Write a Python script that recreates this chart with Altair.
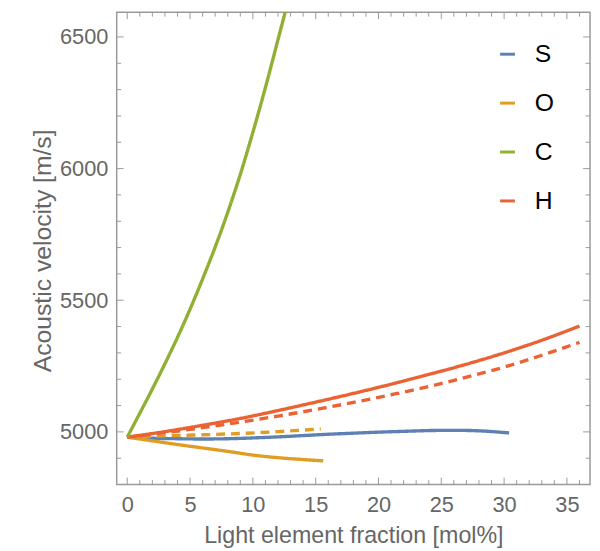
import altair as alt
import pandas as pd

# ---------------- data ----------------
elements = ["S", "O", "C", "H"]
colors = ["#5E81B5", "#E19C24", "#8FB032", "#EB6235"]

s_x = [0, 2, 4, 6, 8, 10, 12, 14, 16, 18, 20, 22, 24, 26, 28, 30.4]
s_y = [4980, 4976, 4974, 4973, 4974, 4977, 4981, 4986, 4991, 4995, 4999, 5002, 5005, 5006, 5004, 4996]

o_x = [0, 2, 4, 6, 8, 10, 12, 14, 15.6]
o_y = [4980, 4966, 4952, 4939, 4926, 4912, 4902, 4895, 4890]

o_dash_x = [0, 3, 6, 9, 12, 15.4]
o_dash_y = [4980, 4985, 4989, 4994, 5001, 5011]

c_x = [0, 1, 2, 3, 4, 5, 6, 7, 8, 9, 10, 11, 12, 12.6, 13]
c_y = [4980, 5071, 5163, 5259, 5359, 5466, 5581, 5702, 5834, 5978, 6138, 6308, 6490, 6600, 6680]

h_x = [0, 3, 6, 9, 12, 15, 18, 21, 24, 27, 30, 33, 36]
h_y = [4980, 5001, 5025, 5051, 5081, 5113, 5146, 5181, 5218, 5257, 5300, 5348, 5402]

h_dash_x = [0, 3, 6, 9, 12, 15, 18, 21, 24, 27, 30, 33, 36]
h_dash_y = [4980, 4997, 5016, 5037, 5060, 5085, 5112, 5141, 5172, 5208, 5246, 5291, 5340]

x_major = [0, 5, 10, 15, 20, 25, 30, 35]
x_minor = [v for v in range(0, 37) if v % 5 != 0]
y_major = [5000, 5500, 6000, 6500]
y_minor = [4900] + [v for v in range(5100, 6600, 100) if v % 500 != 0]

x_domain = [-0.84, 36.84]
y_domain = [4800, 6594]

# ---------------- build table ----------------
rows = []
def add(el, style, xs, ys):
    for x, y in zip(xs, ys):
        rows.append({"element": el, "style": style, "series": el + "-" + style, "x": x, "y": y})

add("S", "solid", s_x, s_y)
add("O", "solid", o_x, o_y)
add("O", "dashed", o_dash_x, o_dash_y)
add("H", "dashed", h_dash_x, h_dash_y)
add("H", "solid", h_x, h_y)
add("C", "solid", c_x, c_y)
df = pd.DataFrame(rows)

W, H = 479, 478
FONT = "Liberation Sans"
GREY_TXT = "#666666"
GREY_LN = "#9a9a9a"
MAJ, MIN = 7, 4.5

xs = alt.Scale(domain=x_domain, nice=False, zero=False)
ys = alt.Scale(domain=y_domain, nice=False, zero=False)

lines = alt.Chart(df).mark_line(strokeWidth=3.4, clip=True, interpolate="monotone").encode(
    x=alt.X("x:Q", scale=xs, axis=alt.Axis(
        values=x_major, format="d", title="Light element fraction [mol%]", grid=False, ticks=False, domain=False,
        labelFontSize=22, labelFont=FONT, labelColor=GREY_TXT, labelPadding=10, labelFlush=False,
        titleFontSize=23.5, titleFont=FONT, titleColor=GREY_TXT, titleFontWeight="normal",
        titleY=59, titleBaseline="alphabetic")),
    y=alt.Y("y:Q", scale=ys, axis=alt.Axis(
        values=y_major, format="d", title="Acoustic velocity [m/s]", grid=False, ticks=False, domain=False,
        labelFontSize=22, labelFont=FONT, labelColor=GREY_TXT, labelPadding=9, labelFlush=False,
        titleFontSize=25, titleFont=FONT, titleColor=GREY_TXT, titleFontWeight="normal",
        titleX=-75, titleY=H / 2 + 2, titleBaseline="middle")),
    color=alt.Color("element:N", scale=alt.Scale(domain=elements, range=colors), legend=alt.Legend(
        title=None, orient="none", legendX=383, legendY=30, symbolType="stroke", symbolSize=225,
        symbolStrokeWidth=3, labelFontSize=25, labelFont=FONT, labelColor="black",
        rowPadding=23.5, labelOffset=15, padding=0)),
    strokeDash=alt.StrokeDash("style:N", scale=alt.Scale(domain=["solid", "dashed"], range=[[1, 0], [9, 6]]), legend=None),
    detail="series:N",
)

xmaj = pd.DataFrame({"v": x_major})
xmin = pd.DataFrame({"v": x_minor})
ymaj = pd.DataFrame({"v": y_major})
ymin = pd.DataFrame({"v": y_minor})

def xticks(d, L):
    base = alt.Chart(d).mark_rule(color=GREY_LN, strokeWidth=1)
    b = base.encode(x=alt.X("v:Q", scale=xs, axis=None), y=alt.value(H), y2=alt.value(H - L))
    t = base.encode(x=alt.X("v:Q", scale=xs, axis=None), y=alt.value(0), y2=alt.value(L))
    return [b, t]

def yticks(d, L):
    base = alt.Chart(d).mark_rule(color=GREY_LN, strokeWidth=1)
    l = base.encode(y=alt.Y("v:Q", scale=ys, axis=None), x=alt.value(0), x2=alt.value(L))
    r = base.encode(y=alt.Y("v:Q", scale=ys, axis=None), x=alt.value(W), x2=alt.value(W - L))
    return [l, r]

layers = [lines] + xticks(xmaj, MAJ) + xticks(xmin, MIN) + yticks(ymaj, MAJ) + yticks(ymin, MIN)

chart = alt.layer(*layers).properties(
    width=W, height=H,
    autosize=alt.AutoSizeParams(type="none"),
    padding={"left": 110, "top": 1, "right": 2, "bottom": 64},
).resolve_axis(x="independent", y="independent").configure_view(stroke=GREY_LN, strokeWidth=1.5)

chart.save("out.html", embed_options={"renderer": "svg", "actions": False})
